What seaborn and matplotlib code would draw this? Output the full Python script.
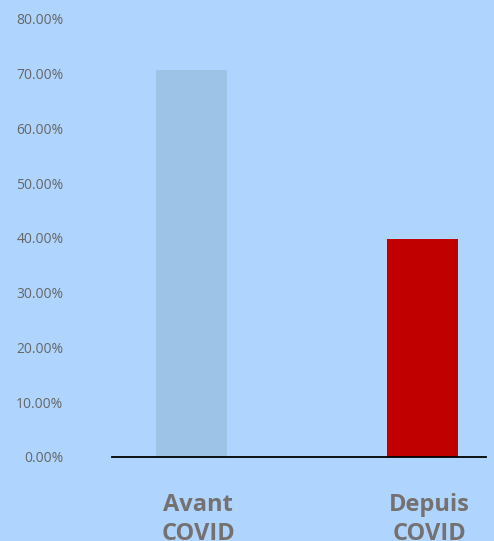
import matplotlib
matplotlib.use("Agg")
import matplotlib.pyplot as plt
import seaborn as sns
import pandas as pd
from matplotlib.ticker import PercentFormatter
from matplotlib.transforms import ScaledTranslation

categories = ["Avant\nCOVID", "Depuis\nCOVID"]
values = [70.7, 39.8]
bar_colors = ["#9DC3E6", "#C00000"]
y_ticks = [0, 10, 20, 30, 40, 50, 60, 70, 80]

df = pd.DataFrame({"periode": categories, "part": values})

bg = "#AFD5FE"
sns.set_style("white")
plt.rcParams["font.family"] = ["Open Sans", "DejaVu Sans"]

fig = plt.figure(figsize=(4.94, 5.41), dpi=100, facecolor=bg)
ax = fig.add_axes([0.2267, 0.1553, 0.7571, 0.8096])
ax.set_facecolor(bg)

sns.barplot(data=df, x="periode", y="part", hue="periode", palette=bar_colors,
            width=0.31, legend=False, ax=ax, saturation=1, linewidth=0)

ax.set_ylim(0, 80)
ax.set_xlim(-0.344, 1.275)
ax.set_yticks(y_ticks)
ax.yaxis.set_major_formatter(PercentFormatter(decimals=2))
ax.set_xlabel("")
ax.set_ylabel("")

for s in ["top", "right", "left"]:
    ax.spines[s].set_visible(False)
ax.spines["bottom"].set_color("black")
ax.spines["bottom"].set_linewidth(1.3)

ax.tick_params(axis="y", length=0, pad=35, labelsize=10, labelcolor="#666666")
ax.tick_params(axis="x", length=0, pad=26, labelsize=17, labelcolor="#767171")
shift = ScaledTranslation(5 / 72, 0, fig.dpi_scale_trans)
for lbl in ax.get_xticklabels():
    lbl.set_fontweight("bold")
    lbl.set_linespacing(1.25)
    lbl.set_transform(lbl.get_transform() + shift)

fig.savefig("out.png", dpi=100, facecolor=bg)
